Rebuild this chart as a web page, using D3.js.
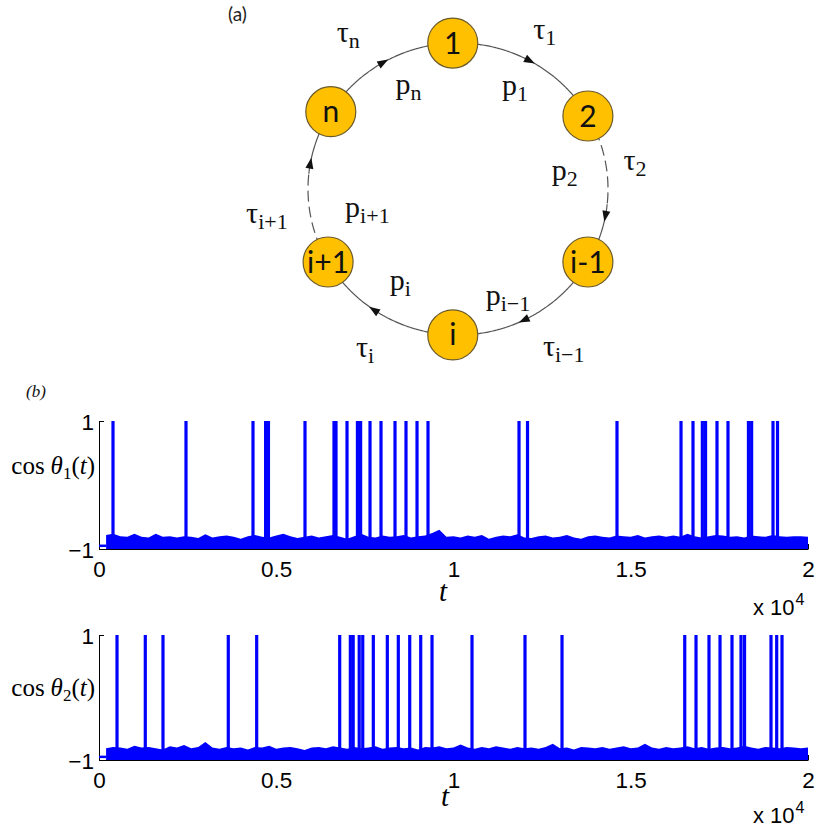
<!DOCTYPE html>
<html>
<head>
<meta charset="utf-8">
<script src="https://cdn.jsdelivr.net/npm/d3@7"></script>
<style>
  body { margin: 0; background: #fff; }
  svg { display: block; }
</style>
</head>
<body>
<svg id="fig" width="817" height="832"></svg>
<script>
// ---------- (a) ring of oscillators ----------
const nodeLabels = ["1", "2", "i-1", "i", "i+1", "n"];
const nodeAngles = [-2, 60, 120, 182, 240, 302];          // degrees, clockwise from top
const arrowAngles = [28.5, 100.6, 153.8, 214, 280, 330];  // one arrow per link, clockwise
const dashedLinks = [{from: 60, to: 96}, {from: 240, to: 276}];

const tauLabels = [
  {base: "τ", sub: "1", a: 29, r: 179},
  {base: "τ", sub: "2", a: 81.6, r: 179},
  {base: "τ", sub: "i−1", a: 146.6, r: 192},
  {base: "τ", sub: "i", a: 210, r: 186},
  {base: "τ", sub: "i+1", a: 262, r: 193},
  {base: "τ", sub: "n", a: 324.5, r: 189}
];
const pLabels = [
  {base: "p", sub: "1", a: 29.4, r: 116},
  {base: "p", sub: "2", a: 81.5, r: 108},
  {base: "p", sub: "i−1", a: 155.4, r: 120},
  {base: "p", sub: "i", a: 211.7, r: 110},
  {base: "p", sub: "i+1", a: 257, r: 93},
  {base: "p", sub: "n", a: 334, r: 113}
];

// ---------- (b) time series ----------
const xTicks = [0, 5000, 10000, 15000, 20000];
const yTicks = [-1, 1];
const startLevel = -0.95;      // level before the noisy regime starts
const envStep = 200;           // spacing of the envelope samples (t units)

// spike times of cos θ1(t)
const spikes1 = [395, 2454, 4344, 4700, 4780, 5811, 6629, 6686, 6996, 7290, 7380,
  7645, 7955, 8350, 8660, 8971, 9281, 11848, 12088, 14612, 16418, 16756,
  17020, 17110, 17433, 17743, 18320, 18410, 19013, 19140];
// spike times of cos θ2(t)
const spikes2 = [508, 1306, 1805, 3647, 4448, 6790, 7090, 7170, 7340, 7440, 7738,
  8133, 8443, 8765, 9075, 9394, 10522, 12017, 13061, 16523, 16841, 17207,
  17518, 17856, 18110, 18210, 18956, 19117, 19267];

// upper envelope of the fluctuations near -1 (t = 200 ... 20000)
const env1 = [
  -0.78,-0.76,-0.80,-0.81,-0.76,-0.81,-0.82,-0.76,-0.81,-0.80,
  -0.82,-0.80,-0.81,-0.83,-0.77,-0.82,-0.80,-0.79,-0.81,-0.84,
  -0.80,-0.78,-0.81,-0.82,-0.79,-0.76,-0.80,-0.83,-0.81,-0.79,
  -0.82,-0.80,-0.78,-0.81,-0.84,-0.80,-0.76,-0.81,-0.82,-0.79,
  -0.81,-0.80,-0.78,-0.82,-0.80,-0.79,-0.75,-0.70,-0.81,-0.80,
  -0.82,-0.79,-0.81,-0.78,-0.84,-0.81,-0.79,-0.80,-0.77,-0.82,
  -0.83,-0.80,-0.79,-0.82,-0.81,-0.78,-0.82,-0.84,-0.80,-0.79,
  -0.81,-0.82,-0.79,-0.80,-0.81,-0.78,-0.82,-0.80,-0.79,-0.81,
  -0.79,-0.81,-0.76,-0.80,-0.82,-0.80,-0.78,-0.79,-0.81,-0.80,
  -0.82,-0.79,-0.80,-0.81,-0.78,-0.80,-0.81,-0.80,-0.80,-0.81
];
const env2 = [
  -0.81,-0.79,-0.80,-0.82,-0.77,-0.80,-0.79,-0.81,-0.83,-0.78,
  -0.80,-0.76,-0.81,-0.79,-0.71,-0.80,-0.82,-0.79,-0.81,-0.80,
  -0.83,-0.79,-0.80,-0.77,-0.82,-0.80,-0.79,-0.81,-0.84,-0.80,
  -0.79,-0.81,-0.78,-0.80,-0.82,-0.79,-0.81,-0.80,-0.78,-0.82,
  -0.80,-0.79,-0.81,-0.80,-0.83,-0.79,-0.80,-0.78,-0.81,-0.80,
  -0.75,-0.80,-0.82,-0.79,-0.81,-0.78,-0.80,-0.82,-0.79,-0.81,
  -0.80,-0.82,-0.79,-0.74,-0.81,-0.80,-0.83,-0.79,-0.80,-0.81,
  -0.79,-0.82,-0.80,-0.78,-0.81,-0.80,-0.74,-0.80,-0.82,-0.79,
  -0.81,-0.80,-0.78,-0.81,-0.79,-0.82,-0.80,-0.79,-0.81,-0.80,
  -0.77,-0.80,-0.82,-0.79,-0.80,-0.81,-0.79,-0.80,-0.81,-0.80
];

const svg = d3.select("#fig");
svg.append("rect").attr("width", 817).attr("height", 832).attr("fill", "#fff");

// ===== panel (a) =====
const ring = svg.append("g");
const cx = 458, cy = 189, rx = 150, ry = 146;
const rad = a => a * Math.PI / 180;
const ellPt = a => [cx + rx * Math.sin(rad(a)), cy - ry * Math.cos(rad(a))];
const polPt = (a, r) => [cx + r * Math.sin(rad(a)), cy - r * Math.cos(rad(a))];
const arcLine = d3.line();

ring.append("text").attr("x", 228).attr("y", 21)
  .attr("font-family", "Lato, 'Open Sans', sans-serif").attr("font-size", 19)
  .attr("fill", "#222").text("(a)");

// links between successive nodes
const links = nodeAngles.map((a, i) => {
  let b = nodeAngles[(i + 1) % nodeAngles.length];
  if (b < a) b += 360;
  return {from: a, to: b};
});
links.forEach(l => {
  const dashed = dashedLinks.find(d => d.from === l.from);
  const split = dashed ? dashed.to : l.from;
  if (dashed) {
    ring.append("path")
      .attr("d", arcLine(d3.range(l.from, split + 0.01, 0.5).map(ellPt)))
      .attr("fill", "none").attr("stroke", "#555").attr("stroke-width", 1.2)
      .attr("stroke-dasharray", "11,5");
  }
  ring.append("path")
    .attr("d", arcLine(d3.range(split, l.to + 0.01, 0.5).map(ellPt)))
    .attr("fill", "none").attr("stroke", "#555").attr("stroke-width", 1.2);
});

// arrow heads pointing clockwise
arrowAngles.forEach(a => {
  const [x, y] = ellPt(a);
  const tx = rx * Math.cos(rad(a)), ty = ry * Math.sin(rad(a));
  const rot = Math.atan2(ty, tx) * 180 / Math.PI;
  ring.append("path")
    .attr("d", "M6,0 L-5,-4 L-5,4 Z")
    .attr("transform", `translate(${x},${y}) rotate(${rot})`)
    .attr("fill", "#111");
});

// nodes
nodeAngles.forEach((a, i) => {
  const [x, y] = ellPt(a);
  ring.append("circle").attr("cx", x).attr("cy", y).attr("r", 25)
    .attr("fill", "#FFC000").attr("stroke", "#6b5a2a").attr("stroke-width", 1.2);
  ring.append("text").attr("x", x).attr("y", y + 10.5)
    .attr("text-anchor", "middle")
    .attr("font-family", "Lato, 'Open Sans', sans-serif").attr("font-size", 30)
    .attr("fill", "#111").text(nodeLabels[i]);
});

// τ and p annotations
function subLabel(g, d) {
  const [x, y] = polPt(d.a, d.r);
  const t = g.append("text").attr("x", x).attr("y", y + 7)
    .attr("text-anchor", "middle")
    .attr("font-family", "'Liberation Serif', 'DejaVu Serif', serif")
    .attr("font-size", 30).attr("fill", "#111");
  t.append("tspan").text(d.base);
  t.append("tspan").attr("dy", 6).attr("font-size", 22).text(d.sub);
}
tauLabels.forEach(d => subLabel(ring, d));
pLabels.forEach(d => subLabel(ring, d));

// ===== panel (b) =====
svg.append("text").attr("x", 26).attr("y", 397)
  .attr("font-family", "'Liberation Serif', serif").attr("font-style", "italic")
  .attr("font-size", 17).attr("fill", "#111").text("(b)");

const x = d3.scaleLinear().domain([0, 20000]).range([99, 808]);

function panel(opt) {
  const g = svg.append("g");
  const y = d3.scaleLinear().domain([-1, 1]).range([opt.bottom, opt.top]);

  // axes
  const ax = g.append("g").attr("transform", `translate(0,${opt.bottom})`)
    .call(d3.axisBottom(x).tickValues(xTicks).tickSizeInner(-5).tickSizeOuter(0)
      .tickPadding(12).tickFormat(d => d / 1e4));
  const ay = g.append("g").attr("transform", "translate(99,0)")
    .call(d3.axisLeft(y).tickValues(yTicks).tickSizeInner(-5).tickSizeOuter(0)
      .tickPadding(5).tickFormat(d => d < 0 ? "−1" : "1"));
  [ax, ay].forEach(a => {
    a.selectAll("text").attr("font-family", "'Liberation Sans', Arial, sans-serif")
      .attr("font-size", 22.5).attr("fill", "#000");
    a.selectAll("line, path").attr("stroke", "#000").attr("stroke-width", 1);
  });
  ay.selectAll("text").attr("dy", "0.36em");

  // quiet level before the fluctuations
  g.append("path")
    .attr("d", d3.line()([[x(0), y(startLevel)], [x(envStep), y(startLevel)]]))
    .attr("stroke", "#0000FF").attr("stroke-width", 2.5).attr("fill", "none");

  // fluctuation band
  const envPts = opt.env.map((v, i) => ({t: (i + 1) * envStep, v}));
  g.append("path").datum(envPts)
    .attr("d", d3.area().x(d => x(d.t)).y0(y(-1)).y1(d => y(d.v)))
    .attr("fill", "#0000FF");

  // spikes
  g.selectAll("line.spk").data(opt.spikes).join("line")
    .attr("class", "spk")
    .attr("x1", d => x(d)).attr("x2", d => x(d))
    .attr("y1", y(-1)).attr("y2", y(1))
    .attr("stroke", "#0000FF").attr("stroke-width", 3.2);

  // y label: cos θk(t)
  const yl = g.append("text").attr("x", 95).attr("y", opt.labelY)
    .attr("text-anchor", "end")
    .attr("font-family", "'Liberation Serif', serif").attr("font-size", 25)
    .attr("fill", "#000");
  yl.append("tspan").text("cos");
  yl.append("tspan").attr("dx", 6).attr("font-style", "italic").text("θ");
  yl.append("tspan").attr("dy", 5).attr("font-size", 17).text(opt.k);
  yl.append("tspan").attr("dy", -5).text("(");
  yl.append("tspan").attr("font-style", "italic").text("t");
  yl.append("tspan").text(")");

  // x label
  g.append("text").attr("x", opt.tX).attr("y", opt.tY).attr("text-anchor", "middle")
    .attr("font-family", "'Liberation Serif', serif").attr("font-style", "italic")
    .attr("font-size", 29).attr("fill", "#000").text("t");

  // exponent
  const ex = g.append("text").attr("x", 753).attr("y", opt.expY)
    .attr("font-family", "'Liberation Sans', Arial, sans-serif").attr("font-size", 22)
    .attr("fill", "#000");
  ex.append("tspan").text("x 10");
  ex.append("tspan").attr("dx", 1).attr("dy", -10).attr("font-size", 16).text("4");
}

panel({top: 421, bottom: 549, spikes: spikes1, env: env1, k: "1",
       labelY: 474, tX: 443, tY: 601, expY: 615});
panel({top: 635, bottom: 760, spikes: spikes2, env: env2, k: "2",
       labelY: 696, tX: 445, tY: 806, expY: 823});
</script>
</body>
</html>
